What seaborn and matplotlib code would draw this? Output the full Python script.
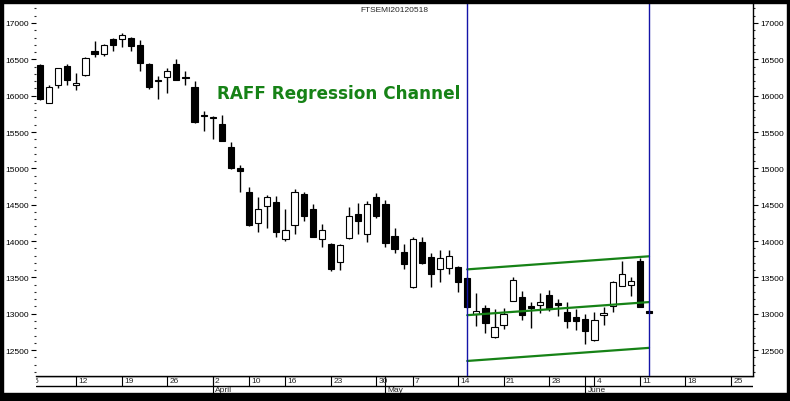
import numpy as np
import pandas as pd
import matplotlib
matplotlib.use('Agg')
import matplotlib.pyplot as plt
from matplotlib.patches import Rectangle
from matplotlib.ticker import MultipleLocator
import seaborn as sns

# FTSE MIB daily candles, 6 March - 12 June 2012
first_day = '2012-03-06'
opens = [16420, 15900, 16140, 16410, 16140, 16290, 16610, 16570, 16780, 16780,
         16790, 16700, 16440, 16215, 16260, 16430, 16250, 16120, 15740, 15710,
         15610, 15300, 15010, 14670, 14250, 14480, 14540, 14030, 14220, 14650,
         14440, 14030, 13960, 13710, 14040, 14370, 14100, 14600, 14510, 14070,
         13850, 13370, 13980, 13780, 13620, 13630, 13640, 13490, 12990, 13080,
         12680, 12850, 13180, 13230, 13105, 13120, 13260, 13145, 13020, 12950,
         12930, 12640, 12985, 13100, 13380, 13400, 13730, 13040]
highs = [16430, 16150, 16385, 16440, 16310, 16530, 16750, 16710, 16790, 16860,
         16810, 16770, 16450, 16270, 16380, 16510, 16340, 16200, 15790, 15720,
         15730, 15360, 15050, 14740, 14600, 14640, 14620, 14440, 14710, 14680,
         14510, 14240, 13970, 13960, 14470, 14530, 14550, 14660, 14560, 14180,
         13960, 14060, 14050, 13830, 13880, 13880, 13650, 13500, 13290, 13120,
         13060, 13080, 13510, 13310, 13160, 13290, 13320, 13200, 13160, 13060,
         12990, 13030, 13090, 13450, 13720, 13510, 13770, 13045]
lows = [15940, 15895, 16110, 16150, 16080, 16270, 16530, 16550, 16610, 16670,
        16620, 16340, 16090, 15950, 16040, 16210, 16150, 15630, 15520, 15400,
        15370, 14990, 14670, 14200, 14120, 14180, 14050, 14000, 14100, 14280,
        14050, 13920, 13590, 13600, 14030, 14100, 13990, 14320, 13920, 13840,
        13610, 13350, 13690, 13370, 13440, 13550, 13300, 13080, 12830, 12730,
        12660, 12790, 13170, 12920, 12810, 13010, 13040, 12970, 12810, 12770,
        12580, 12630, 12850, 13020, 13380, 13250, 13090, 13005]
closes = [15950, 16120, 16380, 16210, 16170, 16520, 16580, 16700, 16700, 16830,
          16680, 16450, 16120, 16200, 16340, 16220, 16240, 15640, 15715, 15690,
          15370, 15000, 14970, 14220, 14440, 14610, 14120, 14150, 14670, 14340,
          14060, 14150, 13610, 13950, 14340, 14270, 14510, 14350, 13970, 13890,
          13680, 14030, 13700, 13540, 13760, 13790, 13440, 13090, 13040, 12870,
          12820, 13000, 13460, 12980, 13085, 13160, 13060, 13125, 12900, 12900,
          12760, 12910, 13005, 13440, 13550, 13450, 13090, 13010]

# Raff regression channel
channel_start = '2012-05-15'
channel_end = '2012-06-12'
channel_mid = [12980, 13160]
channel_offset = 630

holidays = ['2012-04-06', '2012-04-09', '2012-05-01']
days = pd.bdate_range('2012-03-05', '2012-06-29')
days = days[~days.isin(pd.to_datetime(holidays))]
pos = {d: i for i, d in enumerate(days)}

x0 = pos[pd.Timestamp(first_day)]
x = np.arange(len(closes)) + x0
o = np.array(opens)
c = np.array(closes)

sns.set_style('white')
plt.rcParams['font.family'] = ['Liberation Sans', 'DejaVu Sans']

W, H = 790, 402
fig = plt.figure(figsize=(W / 100, H / 100), dpi=100)
fig.patch.set_facecolor('white')

px = 9.09
xlim = (x0 - 4 / px, x0 - 4 / px + 717 / px)
ax = fig.add_axes([36 / W, 25 / H, 717 / W, 373 / H])
ax.set_xlim(*xlim)
ax.set_ylim(12143, 17275)

# candles
ax.vlines(x, lows, highs, color='black', lw=1, zorder=2)
body_bottom = np.minimum(o, c)
body_h = np.maximum(np.abs(o - c), 12)
fc = np.where(c < o, 'black', 'white')
ax.bar(x, body_h, bottom=body_bottom, width=0.68, color=fc,
       edgecolor='black', linewidth=0.8, zorder=3)

# channel
xs = pos[pd.Timestamp(channel_start)]
xe = pos[pd.Timestamp(channel_end)]
mid = np.array(channel_mid)
for off in (-channel_offset, 0, channel_offset):
    sns.lineplot(x=[xs, xe], y=mid + off, color='#168216', lw=1.6, ax=ax,
                 zorder=4)
for xv in (xs, xe):
    ax.axvline(xv, color='#1414a8', lw=1, zorder=5, clip_on=False,
               ymax=1.02)

# axes styling
for s in ('left', 'top'):
    ax.spines[s].set_visible(False)
for s in ('right', 'bottom'):
    ax.spines[s].set_color('black')
    ax.spines[s].set_linewidth(1)
ax.set_xticks([])
ax.yaxis.set_major_locator(MultipleLocator(500))
ax.yaxis.set_minor_locator(MultipleLocator(100))
ax.tick_params(axis='y', which='major', direction='out', length=3.5, width=0.8,
               pad=1.5, labelsize=6, left=True, right=True,
               labelleft=True, labelright=True, colors='black')
ax.tick_params(axis='y', which='minor', direction='out', length=1.6, width=0.8,
               left=True, right=True)
ax.yaxis.set_major_formatter(matplotlib.ticker.FuncFormatter(lambda v, p: f'{v:.0f}'))

# date band
axd = fig.add_axes([36 / W, 8 / H, 717 / W, 17 / H])
axd.set_xlim(*xlim)
axd.set_ylim(0, 17)
axd.axis('off')
axd.axhline(7, color='black', lw=1)
axd.axhline(17, color='black', lw=1)
wk = days.isocalendar().week.values
mon = days.month.values
for i, d in enumerate(days):
    if i == 0 or wk[i] != wk[i - 1]:
        axd.vlines(i, 7, 17, color='black', lw=0.8)
        axd.text(i + 0.25, 12, str(d.day), fontsize=6, va='center', ha='left',
                 clip_on=True)
    if i > 0 and mon[i] != mon[i - 1]:
        axd.vlines(i, 0, 17, color='black', lw=0.8)
        axd.text(i + 0.25, 3.5, d.strftime('%B'), fontsize=6, va='center',
                 ha='left', clip_on=True)

# texts
fig.text(394 / W, 1 - 10 / H, 'FTSEMI20120518', fontsize=6, ha='center',
         va='center')
fig.text(217 / W, 1 - 94 / H, 'RAFF Regression Channel', fontsize=12.2,
         fontweight='bold', color='#168216', family='DejaVu Sans',
         ha='left', va='center')

# outer black frame
for rx, ry, rw, rh in [(0, 0, 3, H), (W - 3, 0, 3, H), (0, H - 4, W, 4), (0, 0, W, 8)]:
    fig.add_artist(Rectangle((rx / W, ry / H), rw / W, rh / H, color='black',
                             transform=fig.transFigure, zorder=10))

plt.savefig('out.png', dpi=100)
